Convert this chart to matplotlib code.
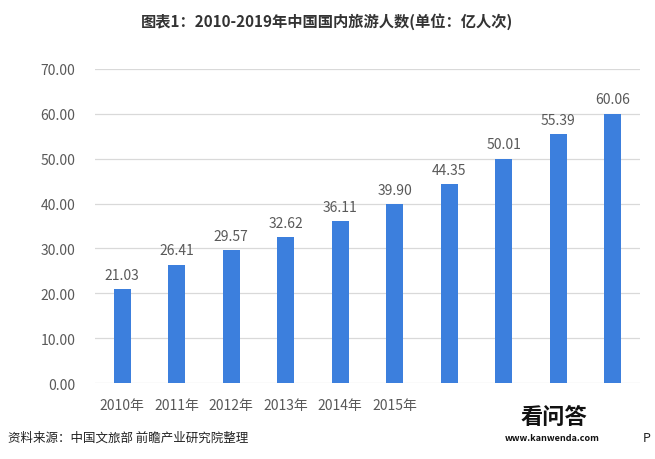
import matplotlib
matplotlib.use('Agg')
from matplotlib import pyplot as plt
import numpy as np

plt.rcParams['font.family'] = ['Noto Sans CJK SC', 'DejaVu Sans']

years = ['2010年', '2011年', '2012年', '2013年', '2014年', '2015年',
         '2016年', '2017年', '2018年', '2019年']
shown = ['2010年', '2011年', '2012年', '2013年', '2014年', '2015年', '', '', '', '']
visitors = [21.03, 26.41, 29.57, 32.62, 36.11, 39.90, 44.35, 50.01, 55.39, 60.06]
yticks = [0, 10, 20, 30, 40, 50, 60, 70]

grey = '#595959'

fig = plt.figure(figsize=(6.55, 4.6), dpi=100)
ax = fig.add_axes([0.145, 0.165, 0.832, 0.683])

x = np.arange(len(years))
ax.bar(x, visitors, width=0.31, color='#3C7FDD', zorder=3)
for xi, v in zip(x, visitors):
    ax.text(xi, v + 1.6, f'{v:.2f}', ha='center', va='bottom', fontsize=10, color=grey)

ax.set_xlim(-0.5, len(years) - 0.5)
ax.set_ylim(0, 70)
ax.set_yticks(yticks)
ax.set_yticklabels([f'{t:.2f}' for t in yticks], fontsize=10, color=grey)
ax.set_xticks(x)
ax.set_xticklabels(shown, fontsize=10, color=grey)
ax.tick_params(length=0, pad=11)
ax.tick_params(axis='y', pad=14)
ax.grid(axis='y', color='#D9D9D9', linewidth=0.9, zorder=0)
for s in ax.spines.values():
    s.set_visible(False)

fig.text(0.5, 0.952, '图表1：2010-2019年中国国内旅游人数(单位：亿人次)', ha='center', va='center',
         fontsize=11, fontweight='bold', color='#333333')
fig.text(0.012, 0.047, '资料来源：中国文旅部 前瞻产业研究院整理', ha='left', va='center',
         fontsize=9, color='#222222')
fig.text(0.795, 0.092, '看问答', ha='left', va='center', fontsize=16, fontweight='bold', color='#111111')
fig.text(0.77, 0.047, 'www.kanwenda.com', ha='left', va='center', fontsize=6.5, fontweight='bold',
         color='#111111')
fig.text(0.982, 0.047, 'P', ha='left', va='center', fontsize=9, color='#222222')

fig.savefig('out.png', dpi=100)
